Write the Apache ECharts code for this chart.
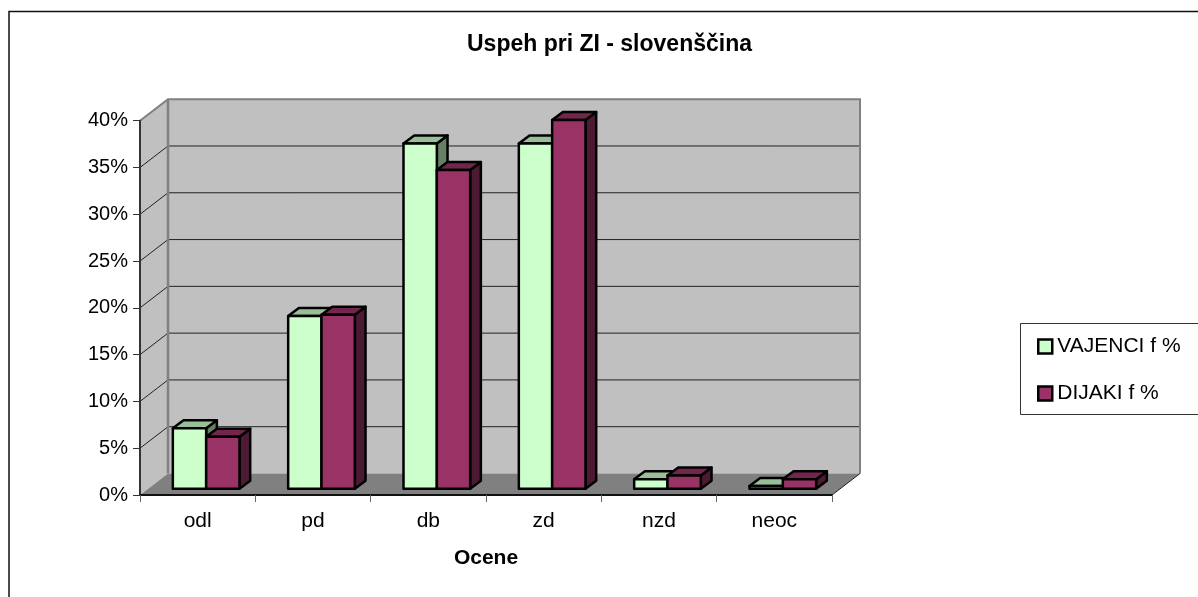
<!DOCTYPE html>
<html><head><meta charset="utf-8">
<style>html,body{margin:0;padding:0;background:#fff}#c{width:1198px;height:597px}</style>
<script src="https://cdn.jsdelivr.net/npm/echarts@6/dist/echarts.min.js"></script>
</head><body><div id="c"></div>
<script>
const titleText = 'Uspeh pri ZI - slovenščina';
const categories = ['odl', 'pd', 'db', 'zd', 'nzd', 'neoc'];
const vajenci = [6.45, 18.45, 36.9, 36.9, 1.0, 0.3];
const dijaki = [5.55, 18.6, 34.05, 39.4, 1.4, 1.0];
const yTicks = [5, 10, 15, 20, 25, 30, 35];
const xName = 'Ocene';
const nameV = 'VAJENCI f %';
const nameD = 'DIJAKI f %';

const FONT = '"Liberation Sans", Arial, sans-serif';
const WX = 28, WY = 21.5;           // wall depth
const OX = 8.5, OY = 6.3;           // bar front offset from front plane
const BX = 10.7, BY = 8;            // bar depth
const BW = 0.289;                   // bar width as a share of a category

function shade(c, k) {
  const n = parseInt(c.slice(1), 16);
  return 'rgb(' + [n >> 16, (n >> 8) & 255, n & 255].map(v => Math.round(v * k)).join(',') + ')';
}
function poly(points, fill, stroke, lw) {
  return { type: 'polygon', shape: { points }, style: { fill, stroke, lineWidth: lw, lineJoin: 'round' } };
}
function barSeries(name, data, color, side) {
  return {
    type: 'custom', name, z: 4, clip: false, silent: true,
    encode: { x: 0, y: 1 },
    data: data.map((v, i) => [i, v]),
    itemStyle: { color },
    renderItem(params, api) {
      const top = api.coord([api.value(0), api.value(1)]);
      const base = api.coord([api.value(0), 0]);
      const w = api.size([1, 0])[0] * BW;
      const x0 = top[0] + OX + (side < 0 ? -w : 0), x1 = x0 + w;
      const y0 = top[1] - OY, y1 = base[1] - OY;
      return { type: 'group', children: [
        poly([[x1, y0], [x1 + BX, y0 - BY], [x1 + BX, y1 - BY], [x1, y1]], shade(color, 0.5), '#000', 2.5),
        poly([[x0, y0], [x0 + BX, y0 - BY], [x1 + BX, y0 - BY], [x1, y0]], shade(color, 0.75), '#000', 2.5),
        poly([[x0, y0], [x1, y0], [x1, y1], [x0, y1]], color, '#000', 2.5)
      ]};
    }
  };
}
const wallSeries = {
  type: 'custom', z: 1, clip: false, silent: true, legendHoverLink: false,
  encode: { x: 0, y: 1 },
  data: [[0, 0]],
  renderItem(params, api) {
    const g = params.coordSys;
    const L = g.x, R = g.x + g.width, T = g.y, B = g.y + g.height;
    const kids = [
      poly([[L + WX, T - WY], [R + WX, T - WY], [R + WX, B - WY], [L + WX, B - WY]], '#C0C0C0', null, 0),
      poly([[L, T], [L + WX, T - WY], [L + WX, B - WY], [L, B]], '#C0C0C0', null, 0),
      poly([[L, B], [L + WX, B - WY], [R + WX, B - WY], [R, B]], '#808080', null, 0)
    ];
    yTicks.forEach(t => {
      const y = api.coord([0, t])[1];
      kids.push({ type: 'polyline', shape: { points: [[L, y], [L + WX, y - WY], [R + WX, y - WY]] },
        style: { fill: null, stroke: '#222', lineWidth: 1 } });
    });
    kids.push({ type: 'polyline', shape: { points: [[L, T], [L + WX, T - WY], [R + WX, T - WY], [R + WX, B - WY]] },
      style: { fill: null, stroke: '#808080', lineWidth: 2 } });
    kids.push({ type: 'line', shape: { x1: L + WX, y1: T - WY, x2: L + WX, y2: B - WY },
      style: { stroke: '#808080', lineWidth: 2.5 } });
    kids.push({ type: 'line', shape: { x1: R, y1: B, x2: R + WX, y2: B - WY },
      style: { stroke: '#222', lineWidth: 1 } });
    return { type: 'group', children: kids };
  }
};
const chart = echarts.init(document.getElementById('c'), null, { renderer: 'canvas' });
chart.setOption({
  animation: false,
  backgroundColor: '#fff',
  textStyle: { fontFamily: FONT },
  title: { text: titleText, left: 604.5, top: 28, textAlign: 'center',
    textStyle: { fontFamily: FONT, fontSize: 23, fontWeight: 'bold', color: '#000' } },
  graphic: [
    { type: 'rect', shape: { x: 9, y: 11.5, width: 1300, height: 700 }, style: { fill: null, stroke: '#111', lineWidth: 1.5 }, silent: true },
    { type: 'rect', shape: { x: 1020.5, y: 323.5, width: 300, height: 91 }, style: { fill: '#fff', stroke: '#333', lineWidth: 1 }, silent: true }
  ],
  legend: {
    orient: 'vertical', left: 1020, top: 323, padding: [13, 0, 0, 17], itemGap: 26,
    itemWidth: 14, itemHeight: 14, icon: 'rect', z: 5, selectedMode: false,
    textStyle: { fontFamily: FONT, fontSize: 21, color: '#000', padding: [0, 0, 0, 0] },
    data: [
      { name: nameV, itemStyle: { color: '#CCFFCC', borderColor: '#000', borderWidth: 2.5 } },
      { name: nameD, itemStyle: { color: '#993366', borderColor: '#000', borderWidth: 2.5 } }
    ]
  },
  grid: { left: 140, top: 120.7, width: 692, height: 374.3, containLabel: false },
  xAxis: {
    type: 'category', data: categories, z: 3,
    name: xName, nameLocation: 'middle', nameGap: 53,
    nameTextStyle: { fontFamily: FONT, fontSize: 21, fontWeight: 'bold', color: '#000' },
    axisLine: { lineStyle: { color: '#111', width: 2 } },
    axisTick: { show: true, alignWithLabel: false, length: 7, lineStyle: { color: '#666', width: 1 } },
    axisLabel: { fontFamily: FONT, fontSize: 21, color: '#000', margin: 16 },
    splitLine: { show: false }
  },
  yAxis: {
    type: 'value', min: 0, max: 40, interval: 5, z: 3,
    axisLine: { show: true, lineStyle: { color: '#333', width: 2 } },
    axisTick: { show: true, length: 7, lineStyle: { color: '#333', width: 1 } },
    axisLabel: { fontFamily: FONT, fontSize: 20, color: '#000', margin: 12, formatter: '{value}%' },
    splitLine: { show: false }
  },
  series: [wallSeries, barSeries(nameV, vajenci, '#CCFFCC', -1), barSeries(nameD, dijaki, '#993366', 1)]
});
</script></body></html>
